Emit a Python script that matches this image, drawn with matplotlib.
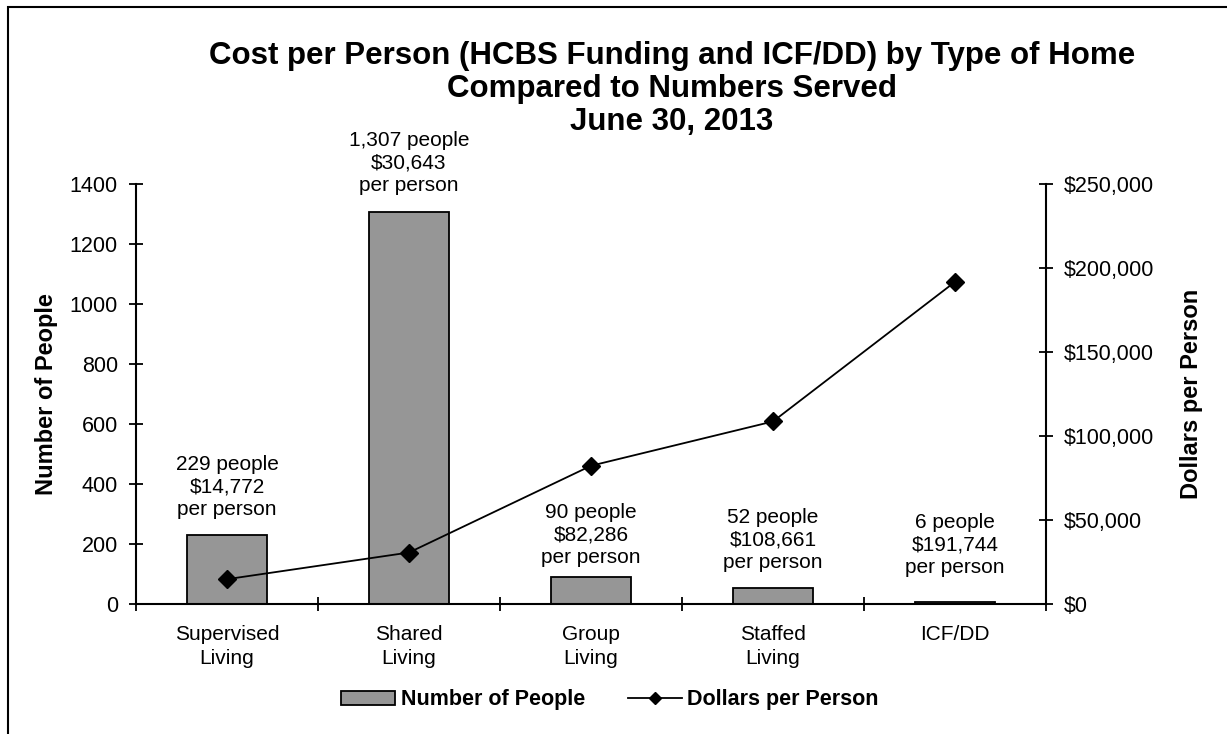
import matplotlib.pyplot as plt
from matplotlib.patches import Rectangle
from matplotlib.lines import Line2D
from matplotlib.ticker import FuncFormatter

plt.rcParams["font.family"] = ["Liberation Sans", "DejaVu Sans"]

categories = ["Supervised\nLiving", "Shared\nLiving", "Group\nLiving", "Staffed\nLiving", "ICF/DD"]
people = [229, 1307, 90, 52, 6]
dollars = [14772, 30643, 82286, 108661, 191744]
labels = [
    "229 people\n$14,772\nper person",
    "1,307 people\n$30,643\nper person",
    "90 people\n$82,286\nper person",
    "52 people\n$108,661\nper person",
    "6 people\n$191,744\nper person",
]
# where each data label sits, in "number of people" units
label_y = [390, 1470, 230, 213, 197]

fig = plt.figure(figsize=(12.27, 7.34), dpi=100)
fig.patches.append(Rectangle((8 / 1227, -0.02), 1.05, 1 - 7 / 734 + 0.02,
                             transform=fig.transFigure, fill=False,
                             edgecolor="black", linewidth=1.5))

ax = fig.add_axes([136 / 1227, 1 - 604 / 734, 910 / 1227, 420 / 734])
ax2 = ax.twinx()

x = list(range(len(categories)))
ax.bar(x, people, width=0.445, color="#969696", edgecolor="black", linewidth=1.3, zorder=2)
ax2.plot(x, dollars, color="black", linewidth=1.3, marker="D", markersize=9, zorder=3)

for xi, yi, txt in zip(x, label_y, labels):
    ax.text(xi, yi, txt, ha="center", va="center", fontsize=15, linespacing=1.25)

ax.set_xlim(-0.5, len(categories) - 0.5)
ax.set_ylim(0, 1400)
ax.set_yticks(range(0, 1401, 200))
ax2.set_ylim(0, 250000)
ax2.set_yticks(range(0, 250001, 50000))
ax2.yaxis.set_major_formatter(FuncFormatter(lambda v, p: f"${v:,.0f}"))

# category boundaries get the ticks, names sit in between
ax.set_xticks([i + 0.5 for i in range(-1, len(categories))])
ax.set_xticklabels([])
ax.set_xticks(x, minor=True)
ax.set_xticklabels(categories, minor=True, fontsize=15, linespacing=1.35)
ax.tick_params(axis="x", which="minor", length=0, pad=15)
ax.tick_params(axis="x", which="major", direction="inout", length=10, width=1.3)
ax.tick_params(axis="y", direction="inout", length=10, width=1.3, labelsize=15.5, pad=8)
ax2.tick_params(axis="y", direction="inout", length=10, width=1.3, labelsize=15.5, pad=8)

for a in (ax, ax2):
    a.spines["top"].set_visible(False)
    for s in ("left", "right", "bottom"):
        a.spines[s].set_linewidth(1.5)
ax.spines["right"].set_visible(False)
ax2.spines["left"].set_visible(False)
ax2.spines["bottom"].set_visible(False)

ax.set_ylabel("Number of People", fontsize=17, fontweight="bold")
ax2.set_ylabel("Dollars per Person", fontsize=17, fontweight="bold")
ax.yaxis.set_label_coords(-0.086, 0.5)
ax2.yaxis.set_label_coords(1.147, 0.5)

fig.text(672 / 1227, 1 - 89 / 734,
         "Cost per Person (HCBS Funding and ICF/DD) by Type of Home\n"
         "Compared to Numbers Served\nJune 30, 2013",
         ha="center", va="center", fontsize=22.5, fontweight="bold", linespacing=1.12)

handles = [
    Rectangle((0, 0), 1, 1, facecolor="#969696", edgecolor="black", linewidth=1.3),
    Line2D([], [], color="black", linewidth=1.3, marker="D", markersize=6),
]
fig.legend(handles, ["Number of People", "Dollars per Person"],
           loc="center", bbox_to_anchor=(610 / 1227, 1 - 700 / 734), ncol=2,
           frameon=False, prop={"size": 15.5, "weight": "bold"},
           handlelength=2.5, handleheight=0.6, handletextpad=0.25, columnspacing=2.0)

fig.savefig("out.png", dpi=100)
